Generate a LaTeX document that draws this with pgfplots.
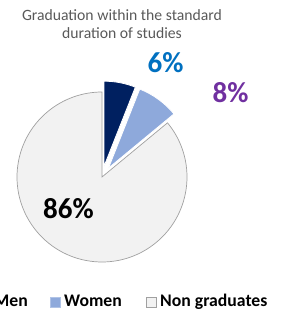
\documentclass[border=0pt]{standalone}
\usepackage{fontspec}
\setmainfont{Carlito}
\usepackage{pgfplots}
\pgfplotsset{compat=1.18}
\usepackage{pgfplotstable}
\definecolor{mencol}{HTML}{002060}
\definecolor{womencol}{HTML}{8EA9DB}
\definecolor{ngcol}{HTML}{F2F2F2}
\definecolor{ngborder}{HTML}{A0A0A0}
\definecolor{titlecol}{HTML}{595959}
\definecolor{bluelab}{HTML}{0070C0}
\definecolor{purplelab}{HTML}{7030A0}
\pgfplotstableread{
group value
Men 6
Women 8
Non 86
}\piedata
\begin{document}
\begin{tikzpicture}
\useasboundingbox (0,0) rectangle (282pt,318pt);
\pgfplotstablegetelem{0}{value}\of\piedata \let\vmen\pgfplotsretval
\pgfplotstablegetelem{1}{value}\of\piedata \let\vwomen\pgfplotsretval
\pgfplotstablegetelem{2}{value}\of\piedata \let\vnon\pgfplotsretval
\pgfmathsetmacro\aA{90}
\pgfmathsetmacro\aB{90-3.6*\vmen}
\pgfmathsetmacro\aC{\aB-3.6*\vwomen}
\pgfmathsetmacro\aD{\aC-3.6*\vnon}
\pgfmathsetmacro\mMen{(\aA+\aB)/2}
\pgfmathsetmacro\mWomen{(\aB+\aC)/2}
\begin{axis}[at={(0,0)}, anchor=south west, x=1pt, y=1pt, xmin=0, xmax=282, ymin=0, ymax=318,
  scale only axis, hide axis, clip=false]
% Non graduates
\filldraw[fill=ngcol, draw=ngborder, line width=0.7pt] (axis cs:102,141) -- ++(\aC:85pt) arc[start angle=\aC, end angle=\aD, radius=85pt] -- cycle;
% Men (exploded)
\filldraw[fill=mencol, draw=white, line width=0.8pt, shift={(\mMen:11pt)}] (axis cs:102,141) -- ++(\aA:85pt) arc[start angle=\aA, end angle=\aB, radius=85pt] -- cycle;
% Women (exploded)
\filldraw[fill=womencol, draw=white, line width=0.8pt, shift={(\mWomen:11pt)}] (axis cs:102,141) -- ++(\aB:85pt) arc[start angle=\aB, end angle=\aC, radius=85pt] -- cycle;
% value labels
\node[anchor=base, inner sep=0pt, font=\fontsize{29}{32}\selectfont\bfseries, text=bluelab] at (axis cs:165.5,245) {\vmen\%};
\node[anchor=base, inner sep=0pt, font=\fontsize{29}{32}\selectfont\bfseries, text=purplelab] at (axis cs:230.5,215) {\vwomen\%};
\node[anchor=base, inner sep=0pt, font=\fontsize{29}{32}\selectfont\bfseries, text=black] at (axis cs:68.5,99) {\vnon\%};
% title
\node[anchor=base, inner sep=0pt, font=\fontsize{15.7}{18}\selectfont, text=titlecol] at (axis cs:122,297) {Graduation within the standard};
\node[anchor=base, inner sep=0pt, font=\fontsize{15.7}{18}\selectfont, text=titlecol] at (axis cs:122,279) {duration of studies};
% legend
\filldraw[fill=mencol, draw=mencol!70!white, line width=0.4pt] (axis cs:-17,11) rectangle (axis cs:-7,21);
\node[anchor=base east, inner sep=0pt, font=\fontsize{17.7}{20}\selectfont\bfseries] at (axis cs:28,11) {Men};
\filldraw[fill=womencol, draw=womencol!70!white, line width=0.4pt] (axis cs:50,11) rectangle (axis cs:60,21);
\node[anchor=base west, inner sep=0pt, font=\fontsize{17.7}{20}\selectfont\bfseries] at (axis cs:64,11) {Women};
\filldraw[fill=ngcol, draw=ngborder, line width=0.4pt] (axis cs:146,11) rectangle (axis cs:156,21);
\node[anchor=base west, inner sep=0pt, font=\fontsize{17.7}{20}\selectfont\bfseries] at (axis cs:160,11) {Non graduates};
\end{axis}
\end{tikzpicture}
\end{document}
